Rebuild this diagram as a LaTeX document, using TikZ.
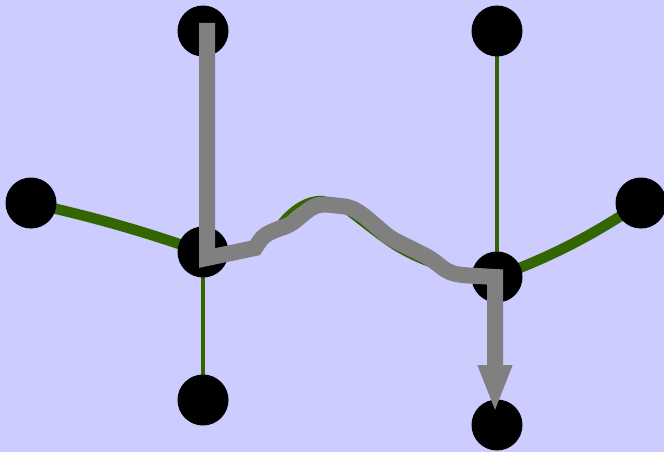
\documentclass[tikz,border=0pt]{standalone}
\usetikzlibrary{arrows.meta,calc}
\pgfdeclarelayer{bg}
\pgfdeclarelayer{edges}
\pgfsetlayers{bg,edges,main}
\definecolor{bgc}{RGB}{204,204,255}
\definecolor{edgegreen}{RGB}{51,102,0}
\definecolor{pathgray}{RGB}{128,128,128}
\begin{document}
\begin{tikzpicture}[x=1pt,y=-1pt,
  vertex/.style={circle,fill=black,inner sep=0pt,minimum size=51pt},
  thinedge/.style={draw=edgegreen,line width=4pt},
  thickedge/.style={draw=edgegreen,line width=10.5pt},
  midedge/.style={draw=edgegreen,line width=4.5pt},
  route/.style={draw=pathgray,line width=16pt,line join=miter,-{Triangle[width=31pt,length=48pt]}}]
\useasboundingbox (0,0) rectangle (664,452);
\begin{pgfonlayer}{bg}
  \fill[bgc] (0,0) rectangle (664,452);
\end{pgfonlayer}
% vertices
\node[vertex] (tl) at (203,31) {};
\node[vertex] (tr) at (497,31) {};
\node[vertex] (l)  at (31,203) {};
\node[vertex] (r)  at (641,203) {};
\node[vertex] (c1) at (203,252) {};
\node[vertex] (c2) at (497,277) {};
\node[vertex] (bl) at (203,400) {};
\node[vertex] (br) at (497,425) {};
% green edges
\begin{pgfonlayer}{edges}
  \draw[thickedge] (l.center) to[bend left=3] (c1.center);
  \draw[thinedge] (c1.center) -- (bl.center);
  \draw[thinedge] (tr.center) -- (c2.center);
  \draw[thickedge] (c2.center) to[bend right=6] (r.center);
  \draw[midedge] (c1.center) .. controls (240,252) and (260,249) .. (272,232)
     .. controls (284,215) and (300,198) .. (322,198)
     .. controls (332,198) and (362,226) .. (390,245)
     .. controls (420,265) and (460,277) .. (c2.center);
\end{pgfonlayer}
% gray route
\draw[route] ($(tl.center)+(4,-8)$) -- ($(c1.center)+(4,6)$) -- (255,248)
  [rounded corners=6pt] -- (263,236)
  -- (275,230) -- (290,225) -- (312,207) -- (322,204) -- (350,207) -- (362,214)
  -- (390,238) -- (430,258) -- (448,272) -- (460,275) [sharp corners] -- ($(c2.center)+(-2,0)$)
  -- ($(br.center)+(-2,-12)$);
\end{tikzpicture}
\end{document}
